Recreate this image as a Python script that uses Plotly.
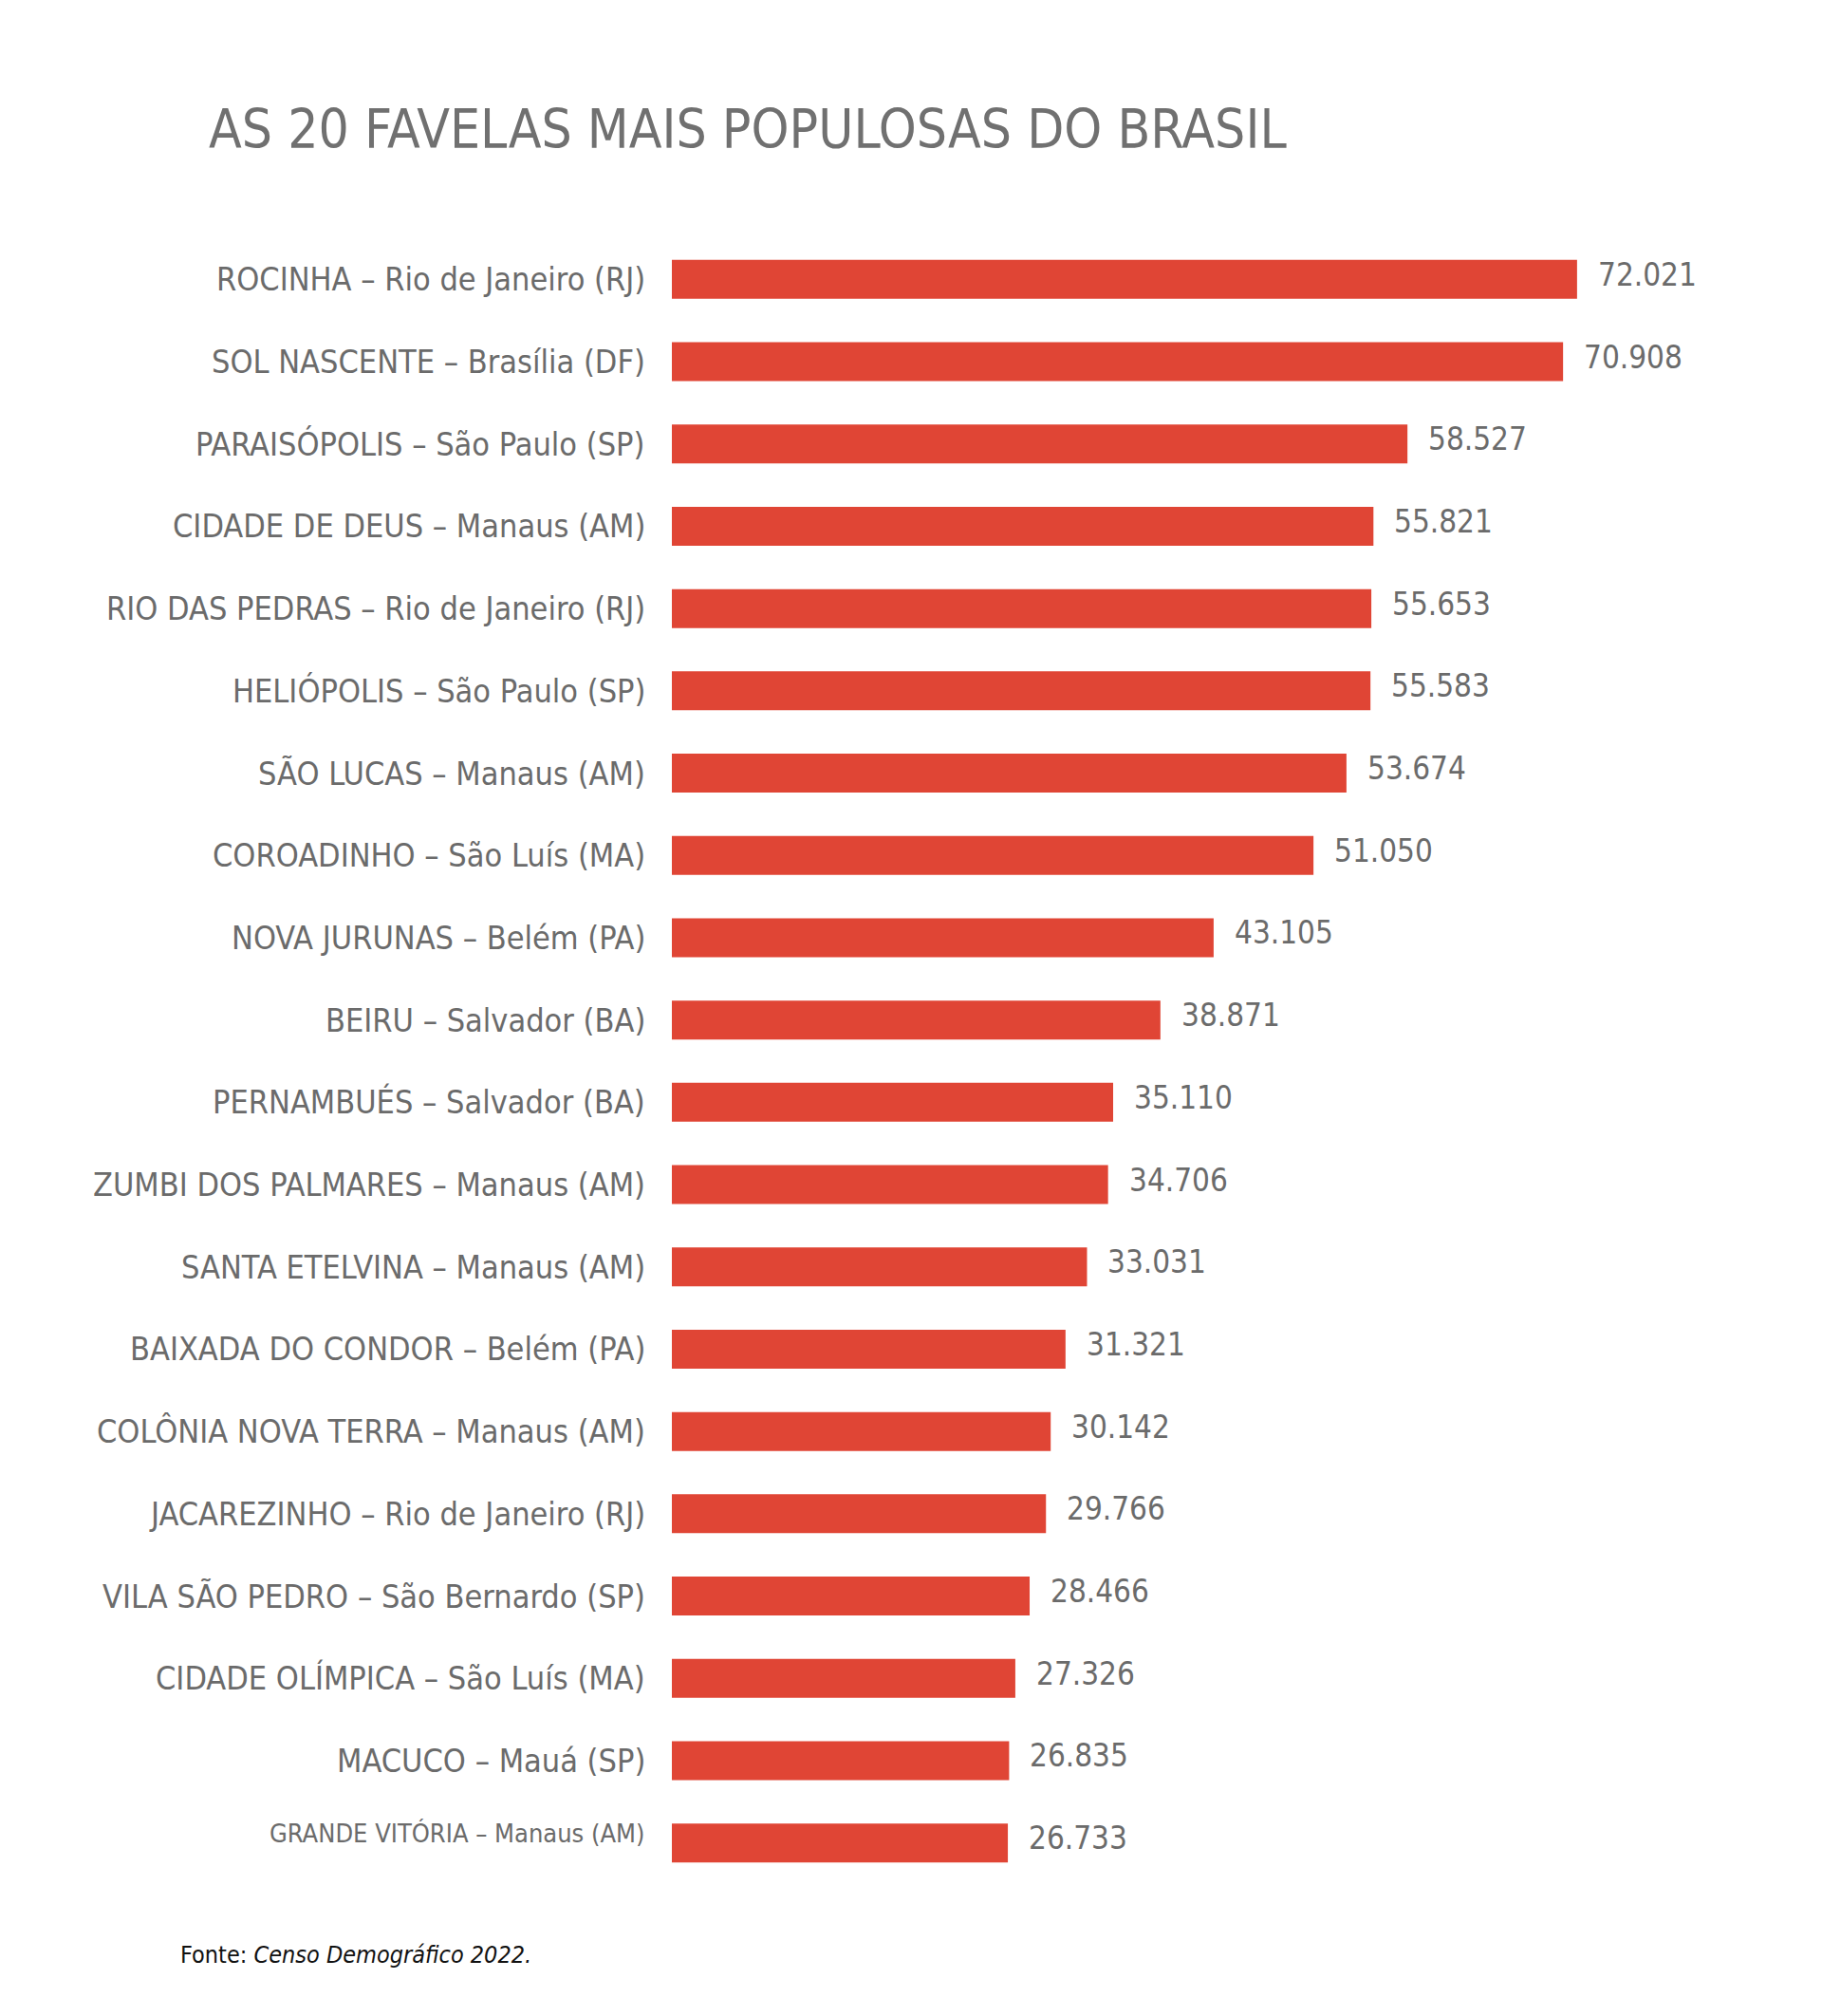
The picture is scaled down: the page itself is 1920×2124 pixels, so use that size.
import plotly.graph_objects as go

# dados do Censo 2022
favelas = [
    "ROCINHA – Rio de Janeiro (RJ)",
    "SOL NASCENTE – Brasília (DF)",
    "PARAISÓPOLIS – São Paulo (SP)",
    "CIDADE DE DEUS – Manaus (AM)",
    "RIO DAS PEDRAS – Rio de Janeiro (RJ)",
    "HELIÓPOLIS – São Paulo (SP)",
    "SÃO LUCAS – Manaus (AM)",
    "COROADINHO – São Luís (MA)",
    "NOVA JURUNAS – Belém (PA)",
    "BEIRU – Salvador (BA)",
    "PERNAMBUÉS – Salvador (BA)",
    "ZUMBI DOS PALMARES – Manaus (AM)",
    "SANTA ETELVINA – Manaus (AM)",
    "BAIXADA DO CONDOR – Belém (PA)",
    "COLÔNIA NOVA TERRA – Manaus (AM)",
    "JACAREZINHO – Rio de Janeiro (RJ)",
    "VILA SÃO PEDRO – São Bernardo (SP)",
    "CIDADE OLÍMPICA – São Luís (MA)",
    "MACUCO – Mauá (SP)",
    "GRANDE VITÓRIA – Manaus (AM)",
]
populacao = [72021, 70908, 58527, 55821, 55653, 55583, 53674, 51050, 43105, 38871,
             35110, 34706, 33031, 31321, 30142, 29766, 28466, 27326, 26835, 26733]

titulo = "AS 20 FAVELAS MAIS POPULOSAS DO BRASIL"
fonte = "Fonte: <i>Censo Demográfico 2022.</i>"

FONT = "Liberation Sans Narrow, DejaVu Sans Condensed, sans-serif"
GRAY = "#6b6b6b"
RED = "#e04535"

W, H = 1920, 2124
ML, MR, MT, MB = 700, 28, 243, 147


def fmt(v):
    return f"{v:,}".replace(",", ".")


fig = go.Figure()
fig.add_trace(go.Bar(
    x=populacao, y=favelas, orientation="h",
    marker=dict(color=RED, line=dict(width=0)),
    width=0.473, hoverinfo="skip",
))

annots = []
n = len(favelas)
for i, (nome, v) in enumerate(zip(favelas, populacao)):
    ultimo = i == n - 1
    # rotulo da categoria a esquerda
    annots.append(dict(
        x=0, y=nome, xref="x", yref="y", text=nome, showarrow=False,
        xanchor="right", yanchor="middle", xshift=-26,
        yshift=10 if ultimo else 0,
        font=dict(family=FONT, size=27 if ultimo else 34, color=GRAY),
    ))
    # valor a direita da barra
    annots.append(dict(
        x=v, y=nome, xref="x", yref="y", text=fmt(v), showarrow=False,
        xanchor="left", yanchor="middle", xshift=20, yshift=5,
        font=dict(family=FONT, size=33, color=GRAY),
    ))

annots.append(dict(
    x=0, y=1, xref="paper", yref="paper", text=titulo, showarrow=False,
    xanchor="left", yanchor="middle", xshift=210 - ML, yshift=MT - 128,
    font=dict(family=FONT, size=56.5, color="#707070"),
))
annots.append(dict(
    x=0, y=0, xref="paper", yref="paper", text=fonte, showarrow=False,
    xanchor="left", yanchor="middle", xshift=180 - ML, yshift=-(2051 - (H - MB)),
    font=dict(family=FONT, size=25, color="#111111"),
))

fig.update_layout(
    width=W, height=H,
    margin=dict(l=ML, r=MR, t=MT, b=MB),
    paper_bgcolor="white", plot_bgcolor="white",
    showlegend=False,
    annotations=annots,
    xaxis=dict(range=[0, 90000], visible=False, fixedrange=True),
    yaxis=dict(autorange="reversed", showticklabels=False, showgrid=False,
               zeroline=False, showline=False, ticks="", fixedrange=True),
)

fig.write_html("out.html")
